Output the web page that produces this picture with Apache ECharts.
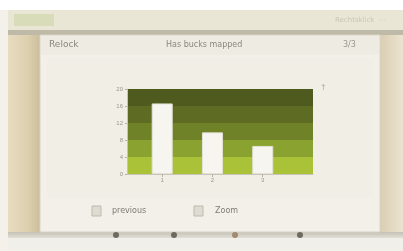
<!DOCTYPE html>
<html>
<head>
<meta charset="utf-8">
<script src="https://cdn.jsdelivr.net/npm/echarts@6/dist/echarts.min.js"></script>
<style>
  * { margin: 0; padding: 0; }
  body { background: #f4f1ea; }
</style>
</head>
<body>
<div id="main" style="width:403px;height:251px;"></div>
<script>
// data
var positions = [1, 2, 3];
var xLabels = ['1', '2', '3'];
var values = [16.6, 9.8, 6.6];
var yTicks = [0, 4, 8, 12, 16, 20];
var bandColors = ['#a9c238', '#8aa22f', '#6f8227', '#5d6c22', '#4f5b1e'];

var chart = echarts.init(document.getElementById('main'));

var option = {
  animation: false,
  backgroundColor: '#f4f1ea',
  graphic: [
    // window around the dialog
    { type: 'rect', z: -10, shape: { x: 0, y: 0, width: 403, height: 10 }, style: { fill: '#ffffff' } },
    { type: 'rect', z: -10, shape: { x: 8, y: 10, width: 395, height: 24 }, style: { fill: '#e9e6d6' } },
    { type: 'rect', z: -9, shape: { x: 14, y: 14, width: 40, height: 12 }, style: { fill: '#d9dcb8' } },
    { type: 'text', z: -9, left: 335, top: 17, style: { text: 'Rechtsklick  ⋯', fill: '#c9c6b6', font: '7px "DejaVu Sans"' } },
    { type: 'rect', z: -10, shape: { x: 8, y: 34, width: 34, height: 200 },
      style: { fill: new echarts.graphic.LinearGradient(0, 0, 1, 0, [
        { offset: 0, color: '#e8dcc0' }, { offset: 0.6, color: '#dccfae' }, { offset: 1, color: '#c9bb98' }]) } },
    { type: 'rect', z: -10, shape: { x: 378, y: 34, width: 25, height: 200 },
      style: { fill: new echarts.graphic.LinearGradient(0, 0, 1, 0, [
        { offset: 0, color: '#d8ccb0' }, { offset: 1, color: '#ece4cf' }]) } },
    { type: 'rect', z: -10, shape: { x: 8, y: 30, width: 395, height: 5 }, style: { fill: '#bfbaa8' } },
    // dialog
    { type: 'rect', z: -8, shape: { x: 40, y: 35, width: 340, height: 197 }, style: { fill: '#f3f0ea', stroke: '#d8d3c6', lineWidth: 1 } },
    { type: 'rect', z: -7, shape: { x: 41, y: 36, width: 338, height: 19 }, style: { fill: '#eeebe3' } },
    { type: 'text', left: 49, top: 40, style: { text: 'Relock', fill: '#8a877c', font: '9px "DejaVu Sans"' } },
    { type: 'text', left: 166, top: 41, style: { text: 'Has bucks mapped', fill: '#8a877c', font: '8px "DejaVu Sans"' } },
    { type: 'text', left: 343, top: 41, style: { text: '3/3', fill: '#9a978c', font: '8px "DejaVu Sans"' } },
    { type: 'rect', z: -7, shape: { x: 46, y: 58, width: 326, height: 140 }, style: { fill: '#f1eee6' } },
    // scroll marker at right of plot
    { type: 'text', left: 320, top: 84, style: { text: '↑', fill: '#b0ad9f', font: '8px "DejaVu Sans"' } },
    // buttons below chart
    { type: 'rect', shape: { x: 92, y: 206, width: 9, height: 10 }, style: { fill: '#dedbd2', stroke: '#bdb9ae' } },
    { type: 'text', left: 112, top: 207, style: { text: 'previous', fill: '#7e7b70', font: '8px "DejaVu Sans"' } },
    { type: 'rect', shape: { x: 194, y: 206, width: 9, height: 10 }, style: { fill: '#dedbd2', stroke: '#bdb9ae' } },
    { type: 'text', left: 215, top: 207, style: { text: 'Zoom', fill: '#7e7b70', font: '8px "DejaVu Sans"' } },
    // taskbar under dialog
    { type: 'rect', z: -9, shape: { x: 8, y: 232, width: 395, height: 6 },
      style: { fill: new echarts.graphic.LinearGradient(0, 0, 0, 1, [
        { offset: 0, color: '#c4c0b4' }, { offset: 1, color: '#e2dfd6' }]) } },
    { type: 'rect', z: -9, shape: { x: 8, y: 238, width: 395, height: 13 }, style: { fill: '#f0efe9' } },
    { type: 'circle', shape: { cx: 116, cy: 235, r: 3 }, style: { fill: '#6e6a60' } },
    { type: 'circle', shape: { cx: 174, cy: 235, r: 3 }, style: { fill: '#6e6a60' } },
    { type: 'circle', shape: { cx: 235, cy: 235, r: 3 }, style: { fill: '#a08a70' } },
    { type: 'circle', shape: { cx: 300, cy: 235, r: 3 }, style: { fill: '#6e6a60' } }
  ],
  grid: { left: 127, top: 89, width: 186, height: 85 },
  xAxis: {
    type: 'value',
    min: 0.3,
    max: 4,
    splitLine: { show: false },
    axisLine: { show: true, lineStyle: { color: '#c7c4b8' } },
    axisTick: { show: true, customValues: positions, length: 3, lineStyle: { color: '#b5b2a6' } },
    axisLabel: {
      customValues: positions,
      formatter: function (v) { return xLabels[positions.indexOf(v)] || ''; },
      color: '#9a978c', fontSize: 6, margin: 3
    }
  },
  yAxis: {
    type: 'value',
    min: yTicks[0],
    max: yTicks[yTicks.length - 1],
    interval: yTicks[1] - yTicks[0],
    axisLine: { show: true, lineStyle: { color: '#c7c4b8' } },
    axisTick: { show: true, length: 2, lineStyle: { color: '#b5b2a6' } },
    axisLabel: { color: '#9a978c', fontSize: 6, margin: 4 },
    splitLine: { show: false },
    splitArea: { show: true, areaStyle: { color: bandColors } }
  },
  series: [{
    type: 'bar',
    data: positions.map(function (p, i) { return [p, values[i]]; }),
    barWidth: 21,
    itemStyle: { color: '#f7f5f0', borderColor: '#e4e1d8', borderWidth: 1 }
  }]
};

chart.setOption(option);
</script>
</body>
</html>
